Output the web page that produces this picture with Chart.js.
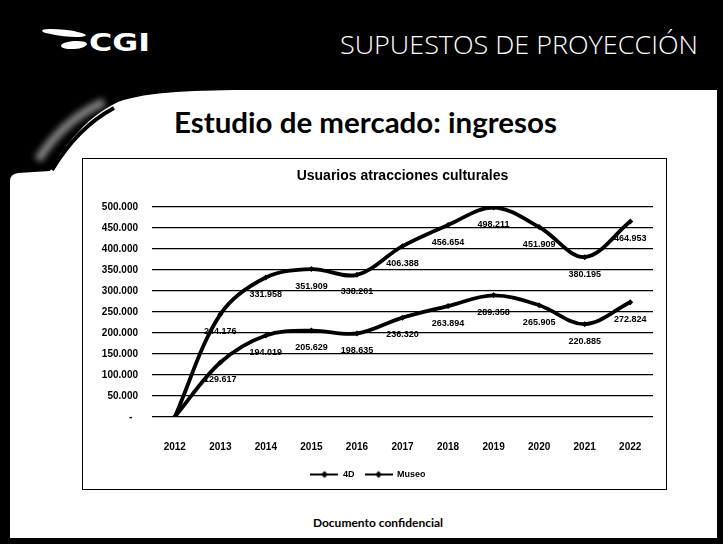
<!DOCTYPE html>
<html><head><meta charset="utf-8">
<script src="https://cdn.jsdelivr.net/npm/chart.js@4.4.1/dist/chart.umd.min.js"></script>
<style>
html,body{margin:0;padding:0;background:#000;width:723px;height:544px;overflow:hidden;}
#bg{position:absolute;left:0;top:0;}
#box{position:absolute;left:82px;top:158px;width:583px;height:330px;border:1px solid #000;background:#fff;}
#box canvas{display:block;}
</style></head><body>
<svg id="bg" width="723" height="544" xmlns="http://www.w3.org/2000/svg">
  <defs><filter id="blur" x="-50%" y="-50%" width="200%" height="200%"><feGaussianBlur stdDeviation="3"/></filter></defs>
  <rect width="723" height="544" fill="#000"/>
  <path d="M10,538 V181 Q10,174 18,173 L50,171 C62,150 84,118 118,102 C148,91 200,90 260,90 L717,90 V538 Z" fill="#fff"/>
  <path d="M38,160 C52,138 72,116 104,102" fill="none" stroke="#aaa" stroke-width="8" filter="url(#blur)" opacity="0.8"/>
  <path d="M52,170 C64,150 84,124 114,108" fill="none" stroke="#000" stroke-width="4"/>
  <ellipse cx="64" cy="33" rx="22" ry="3.2" fill="#fff" transform="rotate(6 64 33)"/>
  <ellipse cx="74" cy="45" rx="13" ry="4" fill="#fff" transform="rotate(-4 74 45)"/>
  <text x="89" y="51" fill="#fff" font-family="DejaVu Sans" font-weight="bold" font-size="25" textLength="61" lengthAdjust="spacingAndGlyphs">CGI</text>
  <text x="340" y="54" fill="#fff" font-family="Open Sans" font-weight="300" font-size="26" textLength="358" lengthAdjust="spacingAndGlyphs">SUPUESTOS DE PROYECCIÓN</text>
  <text x="174" y="133" fill="#000" font-family="Lato" font-weight="bold" font-size="29" textLength="383" lengthAdjust="spacingAndGlyphs">Estudio de mercado: ingresos</text>
  <text x="378" y="527" fill="#000" font-family="Lato" font-weight="bold" font-size="12" text-anchor="middle">Documento confidencial</text>
</svg>
<div id="box"><canvas id="c" width="583" height="330"></canvas></div>
<script>
const years = ['2012','2013','2014','2015','2016','2017','2018','2019','2020','2021','2022'];
const serie4D = [0, 244176, 331958, 351909, 338201, 406388, 456654, 498211, 451909, 380195, 464953];
const serieMuseo = [0, 129617, 194019, 205629, 198635, 236320, 263894, 289358, 265905, 220885, 272824];
const seriesNames = ['4D', 'Museo'];
const yMin = 0, yMax = 500000, yStep = 50000;

function fmt(v){ return String(Math.round(v)).replace(/\B(?=(\d{3})+(?!\d))/g,'.'); }

function legendIcon(){
  const c=document.createElement('canvas'); c.width=28; c.height=10;
  const g=c.getContext('2d');
  g.strokeStyle='#000'; g.lineWidth=2; g.beginPath(); g.moveTo(0,5); g.lineTo(28,5); g.stroke();
  g.fillStyle='#000'; g.beginPath(); g.moveTo(14,1.5); g.lineTo(17.5,5); g.lineTo(14,8.5); g.lineTo(10.5,5); g.closePath(); g.fill();
  return c;
}
const icon = legendIcon();

const valueLabels = {
  id:'valueLabels',
  afterDatasetsDraw(chart){
    const ctx=chart.ctx; ctx.save();
    ctx.font='bold 9px "Liberation Sans"'; ctx.fillStyle='#000';
    ctx.textAlign='center'; ctx.textBaseline='middle';
    chart.data.datasets.forEach((ds,i)=>{
      chart.getDatasetMeta(i).data.forEach((pt,j)=>{
        const v=ds.data[j]; if(!v) return;
        ctx.fillText(fmt(v), pt.x, pt.y+17);
      });
    });
    ctx.restore();
  }
};

const mk = (name, data) => ({
  label:name, data, borderColor:'#000', backgroundColor:'#000', borderWidth:3.8,
  tension:0.35, pointStyle:'rectRot', pointRadius:3, pointBackgroundColor:'#000', pointBorderWidth:0, fill:false
});

new Chart(document.getElementById('c'), {
  type:'line',
  data:{ labels:years, datasets:[ mk(seriesNames[0], serie4D), mk(seriesNames[1], serieMuseo) ] },
  plugins:[valueLabels],
  options:{
    responsive:false, animation:false, devicePixelRatio:1,
    layout:{ padding:{ left:0, right:13, top:4, bottom:0 } },
    plugins:{
      title:{ display:true, fullSize:false, text:'Usuarios atracciones culturales', color:'#000',
        font:{ family:'Liberation Sans', weight:'bold', size:14 }, padding:{ top:5, bottom:22 } },
      legend:{ position:'bottom', labels:{ color:'#000', usePointStyle:true, pointStyleWidth:28, boxHeight:10,
        padding:10, font:{ family:'Liberation Sans', weight:'bold', size:9 },
        generateLabels(chart){
          return Chart.defaults.plugins.legend.labels.generateLabels(chart).map(l=>Object.assign(l,{pointStyle:icon}));
        } } },
      tooltip:{ enabled:false }
    },
    scales:{
      x:{ offset:true, grid:{ display:false }, border:{ display:false },
        ticks:{ color:'#000', padding:16, font:{ family:'Liberation Sans', weight:'bold', size:10 } },
        afterFit(s){ s.height = 43; } },
      y:{ min:yMin, max:yMax, border:{ display:false },
        grid:{ color:'#000', lineWidth:1.3, drawTicks:false },
        ticks:{ stepSize:yStep, color:'#000', padding:14, font:{ family:'Liberation Sans', weight:'bold', size:10 },
          callback:v => v===0 ? '-\u00a0\u00a0' : fmt(v) },
        afterFit(s){ s.width = 69; } }
    }
  }
});
</script>
</body></html>
